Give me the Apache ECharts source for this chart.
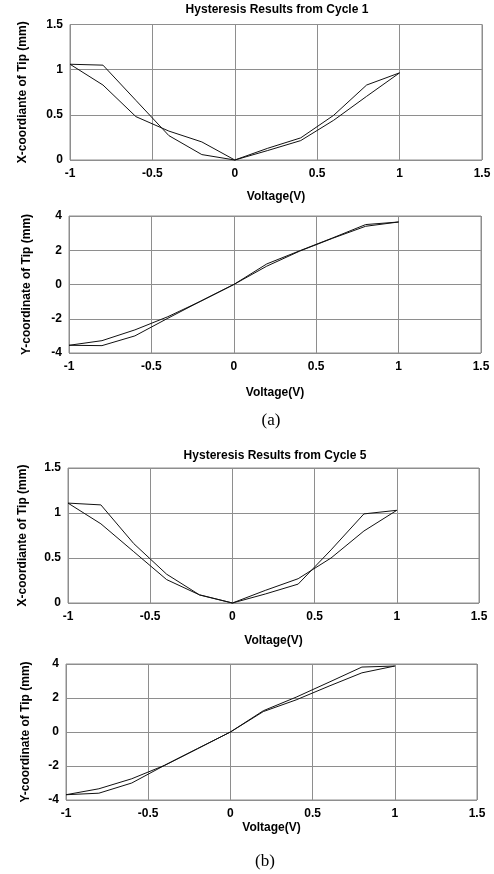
<!DOCTYPE html>
<html>
<head>
<meta charset="utf-8">
<title>Hysteresis Results</title>
<script src="https://cdn.jsdelivr.net/npm/echarts@6/dist/echarts.min.js"></script>
<style>
  html, body { margin: 0; padding: 0; background: #fff; }
  #chart { width: 494px; height: 874px; }
</style>
</head>
<body>
<div id="chart"></div>
<script>
// Drive voltage steps shared by every sweep
const voltage = [-1, -0.8, -0.6, -0.4, -0.2, 0, 0.2, 0.4, 0.6, 0.8, 1];

// Cycle 1: tip X-coordinate (mm), two branches of the loop
const cycle1X_up = [1.06, 1.05, 0.66, 0.27, 0.06, 0, 0.13, 0.245, 0.495, 0.83, 0.965];
const cycle1X_down = [1.06, 0.83, 0.48, 0.32, 0.20, 0, 0.105, 0.215, 0.44, 0.705, 0.965];

// Cycle 1: tip Y-coordinate (mm)
const cycle1Y_up = [-3.55, -3.28, -2.65, -1.88, -0.97, 0, 1.2, 1.97, 2.72, 3.5, 3.65];
const cycle1Y_down = [-3.55, -3.57, -3.0, -1.97, -0.97, 0, 1.07, 1.95, 2.7, 3.4, 3.65];

// Cycle 5: tip X-coordinate (mm)
const cycle5X_up = [1.11, 1.09, 0.66, 0.32, 0.09, 0, 0.10, 0.21, 0.59, 0.99, 1.03];
const cycle5X_down = [1.11, 0.88, 0.57, 0.26, 0.09, 0, 0.14, 0.27, 0.50, 0.80, 1.03];

// Cycle 5: tip Y-coordinate (mm)
const cycle5Y_up = [-3.69, -3.34, -2.75, -1.96, -0.98, 0, 1.25, 2.05, 2.93, 3.82, 3.88];
const cycle5Y_down = [-3.69, -3.6, -3.0, -1.96, -0.98, 0, 1.2, 1.89, 2.7, 3.48, 3.88];

// Axis ranges and tick steps
const xRange = { min: -1, max: 1.5, interval: 0.5 };
const xCoordRange = { min: 0, max: 1.5, interval: 0.5 };
const yCoordRange = { min: -4, max: 4, interval: 2 };

const titles = ['Hysteresis Results from Cycle 1', 'Hysteresis Results from Cycle 5'];
const xName = 'Voltage(V)';
const yNames = ['X-coordiante of Tip (mm)', 'Y-coordinate of Tip (mm)'];
const captions = ['(a)', '(b)'];

const SANS = '"Liberation Sans", Arial, Helvetica, sans-serif';
const SERIF = '"Liberation Serif", "Times New Roman", serif';
const GRIDCOL = '#8e8e8e';

const panels = [
  { grid: { left: 70, top: 24.5, width: 412, height: 135.5 }, range: xCoordRange, yName: yNames[0], yGap: 41, xGap: 31 },
  { grid: { left: 69, top: 216, width: 412, height: 137 }, range: yCoordRange, yName: yNames[1], yGap: 36, xGap: 34 },
  { grid: { left: 68, top: 468, width: 411, height: 135 }, range: xCoordRange, yName: yNames[0], yGap: 39, xGap: 32 },
  { grid: { left: 66, top: 664, width: 411, height: 136 }, range: yCoordRange, yName: yNames[1], yGap: 34, xGap: 22 }
];

const seriesData = [
  [cycle1X_up, cycle1X_down],
  [cycle1Y_up, cycle1Y_down],
  [cycle5X_up, cycle5X_down],
  [cycle5Y_up, cycle5Y_down]
];

const labelStyle = { color: '#000', fontFamily: SANS, fontWeight: 'bold', fontSize: 12 };

const option = {
  animation: false,
  backgroundColor: '#fff',
  grid: panels.map(p => Object.assign({
    show: true, borderColor: GRIDCOL, borderWidth: 1, backgroundColor: 'transparent',
    containLabel: false
  }, p.grid)),
  xAxis: panels.map((p, i) => ({
    type: 'value', gridIndex: i,
    min: xRange.min, max: xRange.max, interval: xRange.interval,
    name: xName, nameLocation: 'middle', nameGap: p.xGap,
    nameTextStyle: { color: '#000', fontFamily: SANS, fontWeight: 'bold', fontSize: 12 },
    axisLine: { show: false, onZero: false },
    axisTick: { show: false },
    axisLabel: Object.assign({ margin: 8, showMinLabel: true, showMaxLabel: true, hideOverlap: false }, labelStyle),
    splitLine: { show: true, lineStyle: { color: GRIDCOL, width: 1 } }
  })),
  yAxis: panels.map((p, i) => ({
    type: 'value', gridIndex: i,
    min: p.range.min, max: p.range.max, interval: p.range.interval,
    name: p.yName, nameLocation: 'middle', nameGap: p.yGap, nameRotate: 90,
    nameTextStyle: { color: '#000', fontFamily: SANS, fontWeight: 'bold', fontSize: 12 },
    axisLine: { show: false, onZero: false },
    axisTick: { show: false },
    axisLabel: Object.assign({ margin: 7, showMinLabel: true, showMaxLabel: true, hideOverlap: false }, labelStyle),
    splitLine: { show: true, lineStyle: { color: GRIDCOL, width: 1 } }
  })),
  series: [],
  graphic: [
    { type: 'text', x: 277, y: 10, style: { text: titles[0], font: 'bold 12px ' + SANS, fill: '#000', align: 'center', verticalAlign: 'middle', textAlign: 'center', textVerticalAlign: 'middle' } },
    { type: 'text', x: 275, y: 456, style: { text: titles[1], font: 'bold 12px ' + SANS, fill: '#000', align: 'center', verticalAlign: 'middle', textAlign: 'center', textVerticalAlign: 'middle' } },
    { type: 'text', x: 271, y: 421, style: { text: captions[0], font: '17px ' + SERIF, fill: '#000', align: 'center', verticalAlign: 'middle', textAlign: 'center', textVerticalAlign: 'middle' } },
    { type: 'text', x: 265, y: 862, style: { text: captions[1], font: '17px ' + SERIF, fill: '#000', align: 'center', verticalAlign: 'middle', textAlign: 'center', textVerticalAlign: 'middle' } }
  ]
};

seriesData.forEach((pair, i) => {
  pair.forEach(values => {
    option.series.push({
      type: 'line', xAxisIndex: i, yAxisIndex: i,
      data: voltage.map((v, k) => [v, values[k]]),
      showSymbol: false, symbol: 'none',
      lineStyle: { color: '#111', width: 1 },
      clip: false
    });
  });
});

const chart = echarts.init(document.getElementById('chart'), null, { renderer: 'canvas' });
chart.setOption(option);
</script>
</body>
</html>
